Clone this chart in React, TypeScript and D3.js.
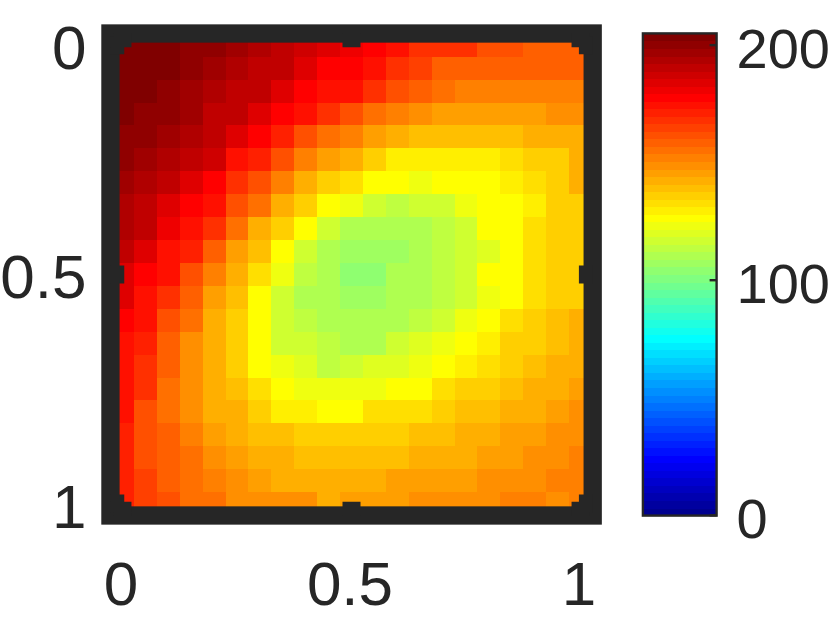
import React from 'react';
import * as d3 from 'd3';

// value ticks
const axisTicks = [0, 0.5, 1];
const colorTicks = [0, 100, 200];
const colorMax = 205;

// heatmap values, one array per row (top to bottom)
const row00 = [204, 204, 204, 201, 201, 198, 195, 192, 188, 185, 182, 179, 176, 169, 169, 167, 163, 163, 160, 160, 160];
const row01 = [204, 204, 204, 201, 198, 195, 192, 189, 185, 179, 179, 176, 167, 165, 160, 160, 158, 158, 158, 158, 158];
const row02 = [204, 204, 201, 198, 195, 192, 189, 185, 179, 173, 173, 167, 162, 158, 155, 152, 152, 152, 152, 152, 152];
const row03 = [204, 201, 201, 198, 192, 189, 183, 179, 173, 167, 163, 156, 151, 148, 145, 145, 145, 145, 145, 148, 148];
const row04 = [201, 201, 198, 195, 189, 183, 179, 170, 163, 156, 152, 145, 143, 139, 139, 139, 139, 139, 142, 142, 144];
const row05 = [201, 198, 195, 189, 187, 176, 170, 162, 152, 145, 142, 135, 131, 131, 131, 131, 131, 134, 137, 137, 141];
const row06 = [198, 195, 192, 185, 179, 168, 162, 152, 144, 137, 133, 125, 125, 122, 125, 125, 128, 131, 134, 137, 141];
const row07 = [195, 192, 185, 179, 173, 163, 154, 144, 135, 125, 124, 118, 115, 118, 118, 122, 125, 128, 131, 135, 137];
const row08 = [195, 189, 182, 173, 167, 154, 144, 136, 125, 117, 110, 110, 110, 110, 113, 117, 125, 128, 133, 135, 137];
const row09 = [192, 185, 176, 170, 157, 147, 139, 128, 118, 110, 107, 107, 107, 110, 113, 117, 121, 128, 134, 135, 137];
const row10 = [185, 179, 173, 163, 152, 141, 134, 122, 115, 109, 104, 104, 109, 110, 115, 117, 125, 128, 134, 135, 137];
const row11 = [183, 176, 167, 157, 147, 139, 128, 117, 112, 109, 106, 106, 109, 112, 115, 117, 123, 128, 133, 135, 137];
const row12 = [179, 175, 162, 154, 144, 136, 125, 117, 115, 110, 110, 110, 112, 115, 118, 123, 128, 133, 136, 139, 141];
const row13 = [176, 170, 160, 150, 144, 136, 128, 118, 117, 113, 112, 112, 117, 120, 124, 128, 131, 135, 136, 139, 142];
const row14 = [176, 167, 160, 150, 141, 135, 128, 124, 120, 115, 116, 119, 119, 124, 128, 131, 132, 135, 140, 142, 144];
const row15 = [173, 167, 156, 148, 144, 139, 134, 128, 124, 123, 124, 124, 128, 128, 132, 136, 136, 139, 142, 143, 145];
const row16 = [173, 163, 156, 150, 144, 143, 136, 131, 131, 128, 128, 132, 132, 132, 135, 139, 139, 143, 143, 146, 148];
const row17 = [170, 162, 157, 152, 147, 144, 139, 139, 135, 135, 135, 135, 135, 139, 139, 143, 143, 146, 146, 148, 149];
const row18 = [170, 162, 160, 154, 149, 146, 144, 142, 139, 139, 140, 140, 140, 143, 143, 143, 147, 147, 149, 149, 151];
const row19 = [170, 165, 159, 156, 152, 149, 147, 144, 144, 142, 143, 143, 147, 147, 147, 147, 149, 149, 149, 151, 151];
const row20 = [170, 165, 162, 156, 154, 150, 150, 148, 148, 144, 146, 146, 146, 149, 149, 149, 149, 152, 152, 150, 152];

const heat = [
  row00, row01, row02, row03, row04, row05, row06,
  row07, row08, row09, row10, row11, row12, row13,
  row14, row15, row16, row17, row18, row19, row20,
];

const ink = '#262626';
const tickFont = 'Liberation Sans, Arial, sans-serif';

// 64 step jet, same stops as matlab
const jet = d3.scaleLinear<string>()
  .domain([0, 7, 23, 39, 55, 63])
  .range(['#00008f', '#0000ff', '#00ffff', '#ffff00', '#ff0000', '#800000'])
  .interpolate(d3.interpolateRgb);
const levels = d3.range(64);
const colour = d3.scaleQuantize<string>()
  .domain([0, colorMax])
  .range(levels.map(i => jet(i)));

// both axes run a little past 0 and 1
const x = d3.scaleLinear().domain([-0.025, 1.025]).range([111, 592]);
const y = d3.scaleLinear().domain([-0.025, 1.025]).range([33.8, 515]);
const cell = d3.scaleBand<number>().domain(d3.range(21));
const cols = cell.copy().range(x.range() as [number, number]);
const rows = cell.copy().range(y.range() as [number, number]);

const frame = { left: 110.45, right: 592.7, top: 33.5, bottom: 515.5, weight: 18.3, tick: 13.8, tickWeight: 18 };

const bar = { left: 642.9, right: 716.6, top: 33.4, bottom: 515.6 };
const barY = d3.scaleLinear().domain([0, colorMax]).range([515.3, 33.4]);

export default function App() {
  const tickPaths: string[] = [];
  axisTicks.forEach(t => {
    tickPaths.push(`M${x(t)},${frame.top}V${frame.top + frame.tick}`);
    tickPaths.push(`M${x(t)},${frame.bottom}V${frame.bottom - frame.tick}`);
    tickPaths.push(`M${frame.left},${y(t)}H${frame.left + frame.tick}`);
    tickPaths.push(`M${frame.right},${y(t)}H${frame.right - frame.tick}`);
  });

  const bandH = (bar.bottom - bar.top) / levels.length;

  return (
    <svg
      width={830}
      height={625}
      viewBox="0 0 830 625"
      style={{ position: 'absolute', left: 0, top: 0, display: 'block' }}
    >
      <rect width={830} height={625} fill="#fff" />

      {/* heatmap */}
      <g shapeRendering="crispEdges">
        {heat.map((row, r) =>
          row.map((v, c) => (
            <rect
              key={`${r}-${c}`}
              x={cols(c)}
              y={rows(r)}
              width={cols.bandwidth() + 0.5}
              height={rows.bandwidth() + 0.5}
              fill={colour(v)}
            />
          ))
        )}
      </g>

      {/* thick box and ticks */}
      <rect
        x={frame.left}
        y={frame.top}
        width={frame.right - frame.left}
        height={frame.bottom - frame.top}
        fill="none"
        stroke={ink}
        strokeWidth={frame.weight}
      />
      <path d={tickPaths.join('')} stroke={ink} strokeWidth={frame.tickWeight} fill="none" />

      {/* axis labels */}
      <g fill={ink} fontFamily={tickFont} fontSize={62}>
        {axisTicks.map(t => (
          <text key={`x${t}`} x={x(t) - 1.5} y={604.5} textAnchor="middle">{t}</text>
        ))}
        {axisTicks.map(t => (
          <text key={`y${t}`} x={86.5} y={y(t) + 24} textAnchor="end">{t}</text>
        ))}
      </g>

      {/* colorbar */}
      <g shapeRendering="crispEdges">
        {levels.map(i => (
          <rect
            key={i}
            x={bar.left}
            y={bar.bottom - (i + 1) * bandH}
            width={bar.right - bar.left}
            height={bandH + 0.5}
            fill={jet(i)}
          />
        ))}
      </g>
      <rect
        x={bar.left}
        y={bar.top}
        width={bar.right - bar.left}
        height={bar.bottom - bar.top}
        fill="none"
        stroke={ink}
        strokeWidth={2.4}
      />
      {colorTicks.map(t => (
        <line
          key={t}
          x1={bar.right}
          x2={bar.right - 7}
          y1={barY(t)}
          y2={barY(t)}
          stroke={ink}
          strokeWidth={2.4}
        />
      ))}
      <g fill={ink} fontFamily={tickFont} fontSize={56}>
        {colorTicks.map(t => (
          <text key={t} x={736.5} y={barY(t) + 23}>{t}</text>
        ))}
      </g>
    </svg>
  );
}
